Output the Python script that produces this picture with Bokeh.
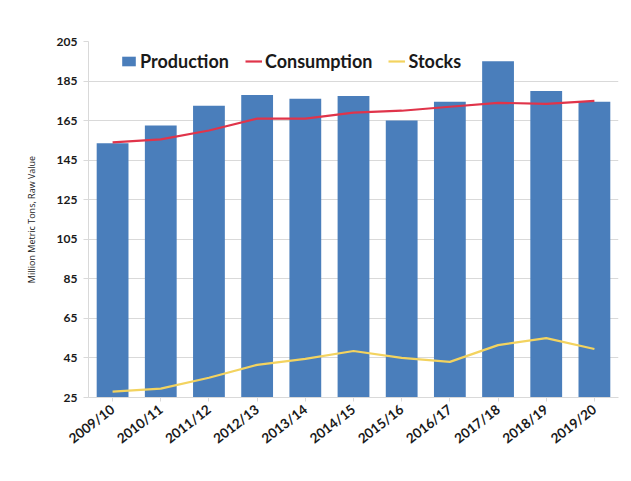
from bokeh.plotting import figure
from bokeh.models import FactorRange, FixedTicker, Legend, LegendItem, Range1d
from bokeh.embed import file_html
from bokeh.resources import INLINE

years = ["2009/10", "2010/11", "2011/12", "2012/13", "2013/14", "2014/15",
         "2015/16", "2016/17", "2017/18", "2018/19", "2019/20"]
production = [153.5, 162.5, 172.5, 178, 176, 177.5, 165, 174.5, 195, 180, 174.5]
consumption = [154, 155.5, 160, 166, 166, 169, 170, 172, 174, 173.5, 175]
stocks = [28, 29.5, 35, 41.5, 44.5, 48.5, 45, 43, 51.5, 55, 49.5]
y_ticks = [25, 45, 65, 85, 105, 125, 145, 165, 185, 205]

p = figure(width=623, height=473, x_range=FactorRange(*years, range_padding=0),
           y_range=Range1d(25, 205), output_backend="svg", toolbar_location=None,
           min_border_left=88, min_border_right=5, min_border_top=41, min_border_bottom=76)

vb = p.vbar(x=years, top=production, bottom=25, width=0.66, color="#4a7ebb", line_color=None)
lc = p.line(x=years, y=consumption, line_color="#e0344a", line_width=2.2)
ls = p.line(x=years, y=stocks, line_color="#f3d35f", line_width=2.2)

legend = Legend(items=[LegendItem(label="Production", renderers=[vb]),
                       LegendItem(label="Consumption", renderers=[lc]),
                       LegendItem(label="Stocks", renderers=[ls])],
                orientation="horizontal", location="top_left",
                label_text_font="Lato", label_text_font_style="bold",
                label_text_font_size="18px", label_text_color="#1a1a1a",
                glyph_width=17, glyph_height=12, spacing=16, label_standoff=3,
                background_fill_alpha=0, border_line_color=None,
                margin=0, padding=0)
legend.location = (32, 325)
p.add_layout(legend)

p.yaxis.ticker = FixedTicker(ticks=y_ticks)
p.yaxis.axis_label = "Million Metric Tons, Raw Value"
p.yaxis.axis_label_text_font = "Open Sans"
p.yaxis.axis_label_text_font_size = "9px"
p.yaxis.axis_label_text_font_style = "normal"
p.yaxis.axis_label_text_color = "#222222"
p.yaxis.axis_label_standoff = 16
p.yaxis.major_label_text_font = "Lato"
p.yaxis.major_label_text_font_style = "bold"
p.yaxis.major_label_text_font_size = "12px"
p.yaxis.major_label_text_color = "#1a1a1a"
p.yaxis.axis_line_color = "#d9d9d9"
p.yaxis.major_tick_line_color = "#d9d9d9"
p.yaxis.major_tick_out = 5
p.yaxis.major_tick_in = 0
p.yaxis.minor_tick_line_color = None
p.yaxis.major_label_standoff = 6

p.xaxis.major_label_orientation = 0.66
p.xaxis.major_label_text_font = "Lato"
p.xaxis.major_label_text_font_style = "bold"
p.xaxis.major_label_text_font_size = "13.5px"
p.xaxis.major_label_text_color = "#1a1a1a"
p.xaxis.axis_line_color = "#d9d9d9"
p.xaxis.major_tick_line_color = "#d9d9d9"
p.xaxis.major_tick_out = 4
p.xaxis.major_tick_in = 0
p.xaxis.major_label_standoff = 6

p.xgrid.grid_line_color = None
p.ygrid.grid_line_color = "#d9d9d9"
p.ygrid.ticker = FixedTicker(ticks=y_ticks)
p.outline_line_color = None
p.background_fill_color = "white"
p.border_fill_color = "white"

open("out.html", "w").write(file_html(p, INLINE))
